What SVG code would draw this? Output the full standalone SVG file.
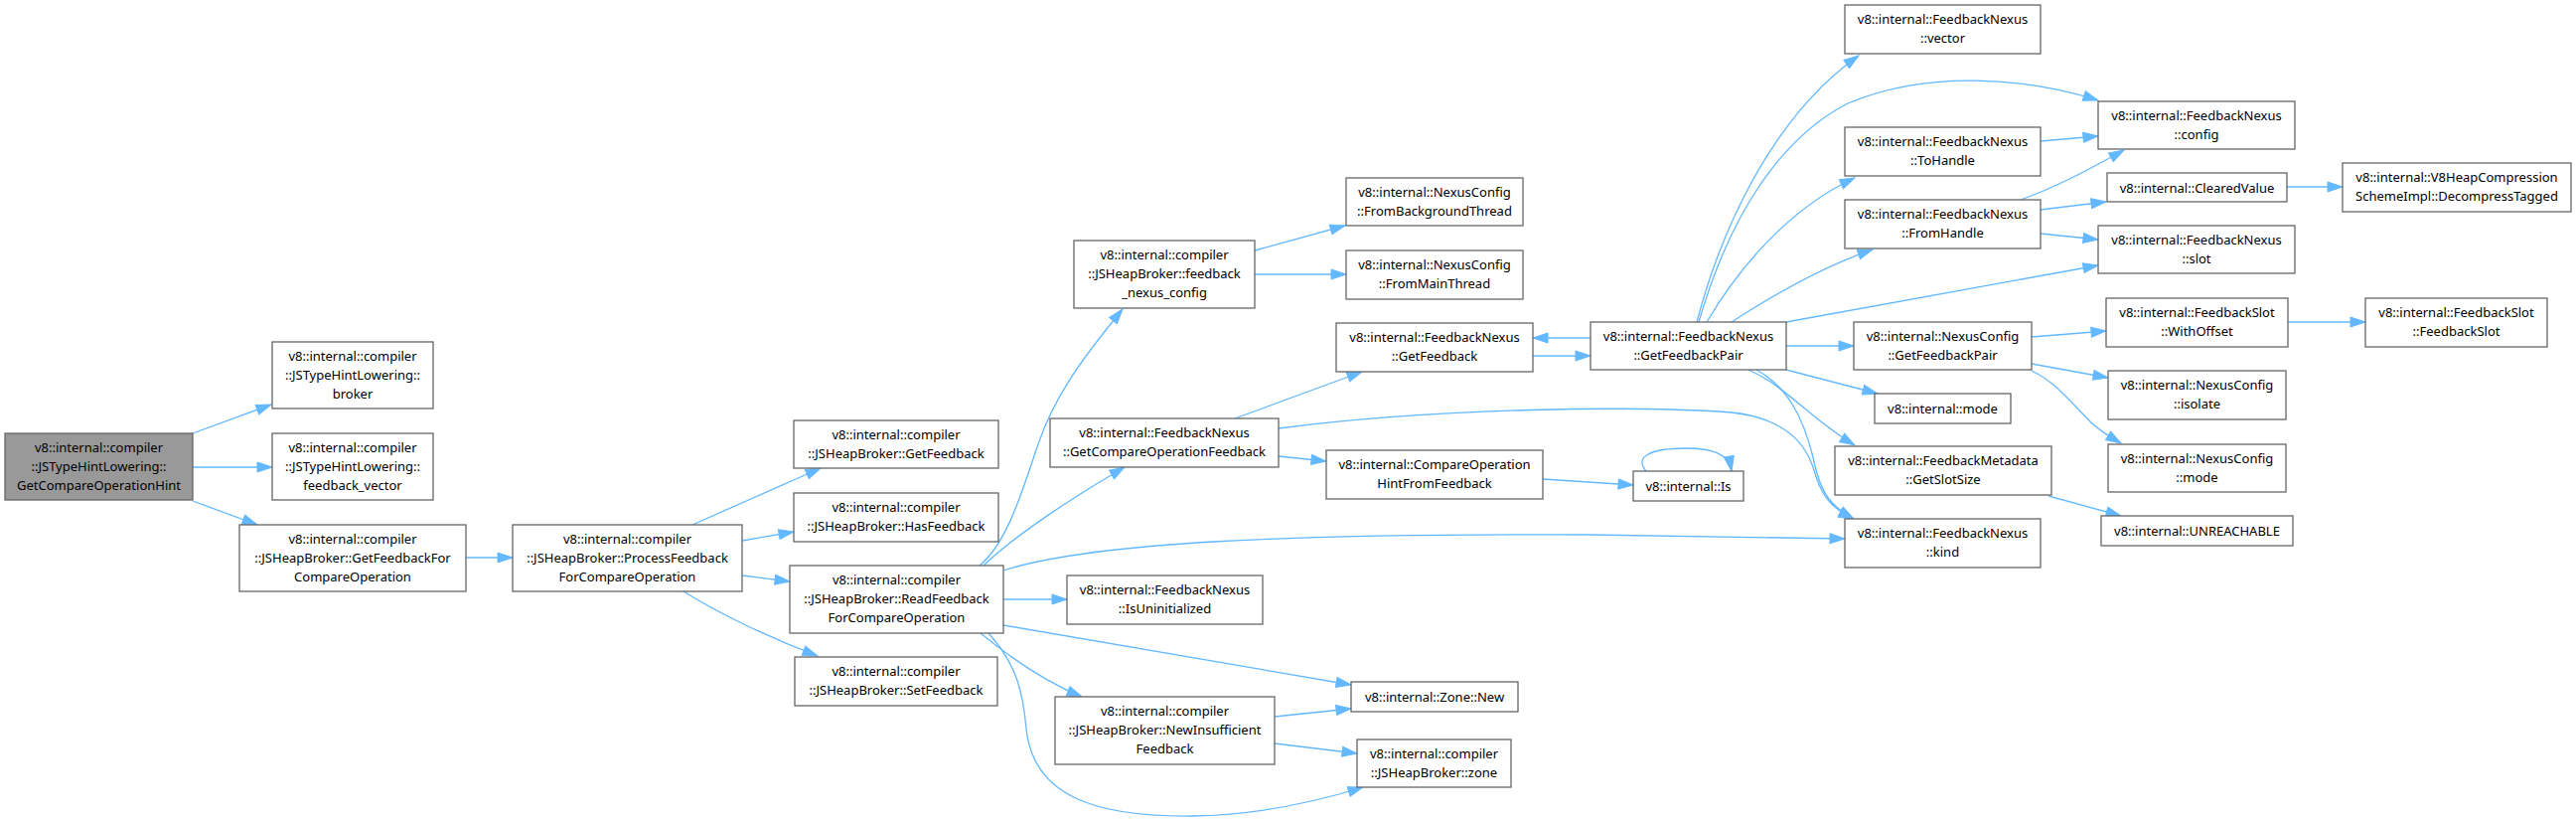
<svg xmlns="http://www.w3.org/2000/svg" width="2593" height="826" viewBox="0 0 2593 826">
<style>
.n rect{fill:#fff;stroke:#666;stroke-width:1.3}
.n.root rect{fill:#999}
.n text{font-family:"Noto Sans","Open Sans","DejaVu Sans",sans-serif;font-size:13px;fill:#000;text-anchor:middle}
.e path{fill:none;stroke:#63b8ff;stroke-width:1.3;marker-end:url(#ah)}
</style>
<defs>
<marker id="ah" markerUnits="userSpaceOnUse" markerWidth="16" markerHeight="11" refX="15" refY="5" orient="auto" overflow="visible">
<path d="M0,0 L15,5 L0,10 z" fill="#63b8ff" stroke="#63b8ff" stroke-width="1"/>
</marker>
</defs>
<rect width="2593" height="826" fill="#fff"/>
<g id="edges" class="e">
<path d="M194,436 L273,407"/>
<path d="M194,470 L274,470"/>
<path d="M194,504 L259,528"/>
<path d="M469,561 L516,561"/>
<path d="M697,528 L826,471"/>
<path d="M747,544 L799,535"/>
<path d="M747,579 L795,585"/>
<path d="M688,595 C720,615 770,640 823,660"/>
<path d="M986,569 C1015,545 1030,490 1044,450 C1060,400 1090,360 1130,311"/>
<path d="M990,569 C1020,540 1080,500 1132,470"/>
<path d="M1010,574 C1100,545 1300,537 1600,538 C1700,539 1790,541 1857,542"/>
<path d="M1010,603 L1074,603"/>
<path d="M1010,629 L1360,689"/>
<path d="M987,637 C1015,660 1050,685 1089,701"/>
<path d="M995,637 C1025,670 1030,700 1033,733 C1040,800 1100,822 1200,821 C1270,820 1330,805 1372,792"/>
<path d="M1283,721 L1360,713"/>
<path d="M1283,748 L1366,758"/>
<path d="M1263,252 L1354,227"/>
<path d="M1263,276 L1355,276"/>
<path d="M1243,421 L1371,374"/>
<path d="M1287,459 L1335,464"/>
<path d="M1287,431 C1450,410 1650,408 1743,415 C1790,420 1815,440 1825,470 C1832,495 1840,510 1866,522"/>
<path d="M1553,482 L1644,488"/>
<path d="M1657,474 C1645,460 1660,451 1697,451 C1725,451 1740,457 1743,474"/>
<path d="M1543,358 L1601,358"/>
<path d="M1601,340 L1543,340"/>
<path d="M1708,324 C1730,240 1780,120 1871,56"/>
<path d="M1710,324 C1740,220 1790,140 1860,104 C1940,70 2040,78 2112,101"/>
<path d="M1718,324 C1750,270 1800,210 1867,179"/>
<path d="M1743,324 C1780,300 1830,270 1885,251"/>
<path d="M1798,324 L2112,267"/>
<path d="M1798,348 L1866,348"/>
<path d="M1798,372 L1890,396"/>
<path d="M1760,372 C1800,390 1820,420 1867,448"/>
<path d="M1768,372 C1800,390 1815,420 1825,460 C1833,500 1845,510 1866,522"/>
<path d="M2054,142 L2112,137"/>
<path d="M2034,201 C2070,188 2100,172 2138,151"/>
<path d="M2054,211 L2120,203"/>
<path d="M2054,235 L2112,241"/>
<path d="M2302,188 L2358,188"/>
<path d="M2045,339 L2120,333"/>
<path d="M2045,366 L2122,380"/>
<path d="M2045,373 C2070,385 2085,405 2100,420 C2110,432 2125,440 2135,446"/>
<path d="M2062,499 L2135,519"/>
<path d="M2303,324 L2381,324"/>
</g>
<g id="n1" class="n root"><rect x="5" y="436" width="189" height="67"/><text x="99.5" y="455">v8::internal::compiler</text><text x="99.5" y="474">::JSTypeHintLowering::</text><text x="99.5" y="493">GetCompareOperationHint</text></g>
<g id="n2" class="n"><rect x="274" y="344" width="162" height="67"/><text x="355" y="363">v8::internal::compiler</text><text x="355" y="382">::JSTypeHintLowering::</text><text x="355" y="401">broker</text></g>
<g id="n3" class="n"><rect x="274" y="436" width="162" height="67"/><text x="355" y="455">v8::internal::compiler</text><text x="355" y="474">::JSTypeHintLowering::</text><text x="355" y="493">feedback_vector</text></g>
<g id="n4" class="n"><rect x="241" y="528" width="228" height="67"/><text x="355" y="547">v8::internal::compiler</text><text x="355" y="566">::JSHeapBroker::GetFeedbackFor</text><text x="355" y="585">CompareOperation</text></g>
<g id="n5" class="n"><rect x="516" y="528" width="231" height="67"/><text x="631.5" y="547">v8::internal::compiler</text><text x="631.5" y="566">::JSHeapBroker::ProcessFeedback</text><text x="631.5" y="585">ForCompareOperation</text></g>
<g id="n6" class="n"><rect x="799" y="423" width="206" height="48"/><text x="902" y="442">v8::internal::compiler</text><text x="902" y="461">::JSHeapBroker::GetFeedback</text></g>
<g id="n7" class="n"><rect x="799" y="496" width="206" height="49"/><text x="902" y="515">v8::internal::compiler</text><text x="902" y="534">::JSHeapBroker::HasFeedback</text></g>
<g id="n8" class="n"><rect x="795" y="569" width="215" height="68"/><text x="902.5" y="588">v8::internal::compiler</text><text x="902.5" y="607">::JSHeapBroker::ReadFeedback</text><text x="902.5" y="626">ForCompareOperation</text></g>
<g id="n9" class="n"><rect x="800" y="661" width="204" height="49"/><text x="902" y="680">v8::internal::compiler</text><text x="902" y="699">::JSHeapBroker::SetFeedback</text></g>
<g id="n10" class="n"><rect x="1081" y="242" width="182" height="68"/><text x="1172" y="261">v8::internal::compiler</text><text x="1172" y="280">::JSHeapBroker::feedback</text><text x="1172" y="299">_nexus_config</text></g>
<g id="n11" class="n"><rect x="1057" y="421" width="230" height="49"/><text x="1172" y="440">v8::internal::FeedbackNexus</text><text x="1172" y="459">::GetCompareOperationFeedback</text></g>
<g id="n12" class="n"><rect x="1074" y="579" width="197" height="49"/><text x="1172.5" y="598">v8::internal::FeedbackNexus</text><text x="1172.5" y="617">::IsUninitialized</text></g>
<g id="n13" class="n"><rect x="1062" y="701" width="221" height="68"/><text x="1172.5" y="720">v8::internal::compiler</text><text x="1172.5" y="739">::JSHeapBroker::NewInsufficient</text><text x="1172.5" y="758">Feedback</text></g>
<g id="n14" class="n"><rect x="1355" y="179" width="178" height="48"/><text x="1444" y="198">v8::internal::NexusConfig</text><text x="1444" y="217">::FromBackgroundThread</text></g>
<g id="n15" class="n"><rect x="1355" y="252" width="178" height="49"/><text x="1444" y="271">v8::internal::NexusConfig</text><text x="1444" y="290">::FromMainThread</text></g>
<g id="n16" class="n"><rect x="1345" y="325" width="198" height="49"/><text x="1444" y="344">v8::internal::FeedbackNexus</text><text x="1444" y="363">::GetFeedback</text></g>
<g id="n17" class="n"><rect x="1335" y="453" width="218" height="49"/><text x="1444" y="472">v8::internal::CompareOperation</text><text x="1444" y="491">HintFromFeedback</text></g>
<g id="n18" class="n"><rect x="1360" y="686" width="168" height="30"/><text x="1444" y="706">v8::internal::Zone::New</text></g>
<g id="n19" class="n"><rect x="1366" y="744" width="155" height="48"/><text x="1443.5" y="763">v8::internal::compiler</text><text x="1443.5" y="782">::JSHeapBroker::zone</text></g>
<g id="n20" class="n"><rect x="1601" y="324" width="197" height="48"/><text x="1699.5" y="343">v8::internal::FeedbackNexus</text><text x="1699.5" y="362">::GetFeedbackPair</text></g>
<g id="n21" class="n"><rect x="1644" y="474" width="111" height="30"/><text x="1699.5" y="494">v8::internal::Is</text></g>
<g id="n22" class="n"><rect x="1857" y="5" width="197" height="49"/><text x="1955.5" y="24">v8::internal::FeedbackNexus</text><text x="1955.5" y="43">::vector</text></g>
<g id="n23" class="n"><rect x="1857" y="128" width="197" height="49"/><text x="1955.5" y="147">v8::internal::FeedbackNexus</text><text x="1955.5" y="166">::ToHandle</text></g>
<g id="n24" class="n"><rect x="1857" y="201" width="197" height="49"/><text x="1955.5" y="220">v8::internal::FeedbackNexus</text><text x="1955.5" y="239">::FromHandle</text></g>
<g id="n25" class="n"><rect x="1866" y="324" width="179" height="48"/><text x="1955.5" y="343">v8::internal::NexusConfig</text><text x="1955.5" y="362">::GetFeedbackPair</text></g>
<g id="n26" class="n"><rect x="1887" y="396" width="137" height="30"/><text x="1955.5" y="416">v8::internal::mode</text></g>
<g id="n27" class="n"><rect x="1847" y="449" width="218" height="49"/><text x="1956" y="468">v8::internal::FeedbackMetadata</text><text x="1956" y="487">::GetSlotSize</text></g>
<g id="n28" class="n"><rect x="1857" y="522" width="197" height="49"/><text x="1955.5" y="541">v8::internal::FeedbackNexus</text><text x="1955.5" y="560">::kind</text></g>
<g id="n29" class="n"><rect x="2112" y="102" width="198" height="48"/><text x="2211" y="121">v8::internal::FeedbackNexus</text><text x="2211" y="140">::config</text></g>
<g id="n30" class="n"><rect x="2121" y="174" width="181" height="29"/><text x="2211.5" y="193.5">v8::internal::ClearedValue</text></g>
<g id="n31" class="n"><rect x="2112" y="227" width="198" height="48"/><text x="2211" y="246">v8::internal::FeedbackNexus</text><text x="2211" y="265">::slot</text></g>
<g id="n32" class="n"><rect x="2120" y="300" width="183" height="49"/><text x="2211.5" y="319">v8::internal::FeedbackSlot</text><text x="2211.5" y="338">::WithOffset</text></g>
<g id="n33" class="n"><rect x="2122" y="373" width="179" height="49"/><text x="2211.5" y="392">v8::internal::NexusConfig</text><text x="2211.5" y="411">::isolate</text></g>
<g id="n34" class="n"><rect x="2122" y="447" width="179" height="48"/><text x="2211.5" y="466">v8::internal::NexusConfig</text><text x="2211.5" y="485">::mode</text></g>
<g id="n35" class="n"><rect x="2115" y="519" width="193" height="30"/><text x="2211.5" y="539">v8::internal::UNREACHABLE</text></g>
<g id="n36" class="n"><rect x="2358" y="164" width="230" height="49"/><text x="2473" y="183">v8::internal::V8HeapCompression</text><text x="2473" y="202">SchemeImpl::DecompressTagged</text></g>
<g id="n37" class="n"><rect x="2381" y="300" width="183" height="49"/><text x="2472.5" y="319">v8::internal::FeedbackSlot</text><text x="2472.5" y="338">::FeedbackSlot</text></g>
</svg>
